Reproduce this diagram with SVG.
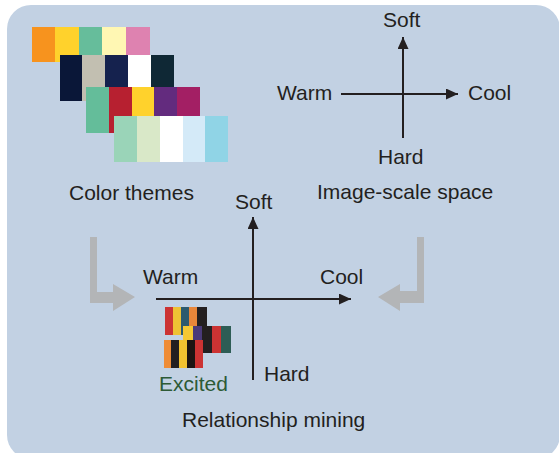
<svg xmlns="http://www.w3.org/2000/svg" width="559" height="453" viewBox="0 0 559 453">
<defs>
<style>
.t{font-family:"Liberation Sans",Arial,sans-serif;font-size:21px;fill:#231f20}
.ax{stroke:#231f20;stroke-width:2;fill:none;marker-end:url(#ah)}
.ga{fill:#b3b5b7}
</style>
<marker id="ah" markerUnits="userSpaceOnUse" markerWidth="12" markerHeight="12" refX="12" refY="5.5" orient="auto">
<path d="M0,0 L12,5.5 L0,11 z" fill="#231f20"/>
</marker>
</defs>
<rect width="559" height="453" fill="#ffffff"/>
<rect x="7" y="5" width="553" height="454" rx="24" fill="#c2d1e3"/>

<g id="color-themes">
<rect x="32" y="27" width="23" height="35" fill="#f7931e"/>
<rect x="55" y="27" width="24" height="35" fill="#ffd22c"/>
<rect x="79" y="27" width="23" height="35" fill="#66bd9b"/>
<rect x="102" y="27" width="24" height="35" fill="#fff7b3"/>
<rect x="126" y="27" width="24" height="35" fill="#de82b0"/>
<rect x="60" y="55" width="22" height="46" fill="#0a1738"/>
<rect x="82" y="55" width="23" height="46" fill="#c2bfb1"/>
<rect x="105" y="55" width="23" height="46" fill="#15224e"/>
<rect x="128" y="55" width="23" height="46" fill="#ffffff"/>
<rect x="151" y="55" width="23" height="46" fill="#0f2835"/>
<rect x="86" y="87" width="23" height="46" fill="#64bd9a"/>
<rect x="109" y="87" width="23" height="46" fill="#b72030"/>
<rect x="132" y="87" width="22" height="46" fill="#ffd22c"/>
<rect x="154" y="87" width="23" height="46" fill="#632b7e"/>
<rect x="177" y="87" width="23" height="46" fill="#a31f64"/>
<rect x="114" y="116" width="23" height="46" fill="#9ad4b8"/>
<rect x="137" y="116" width="23" height="46" fill="#d9e8c8"/>
<rect x="160" y="116" width="23" height="46" fill="#ffffff"/>
<rect x="183" y="116" width="22" height="46" fill="#d4eaf8"/>
<rect x="205" y="116" width="23" height="46" fill="#90d4e6"/>
<text class="t" x="69" y="200">Color themes</text>
</g>

<g id="image-scale-space">
<text class="t" x="383" y="27">Soft</text>
<text class="t" x="277" y="100">Warm</text>
<text class="t" x="468" y="100">Cool</text>
<text class="t" x="378" y="164">Hard</text>
<text class="t" x="317" y="199">Image-scale space</text>
</g>

<g id="relationship-mining">
<text class="t" x="235" y="209">Soft</text>
<text class="t" x="143" y="284">Warm</text>
<text class="t" x="320" y="284">Cool</text>
<text class="t" x="264" y="381">Hard</text>
<text class="t" x="182" y="427">Relationship mining</text>
</g>

<g id="excited">
<rect x="165" y="307" width="8" height="28" fill="#cc3333"/>
<rect x="173" y="307" width="8" height="28" fill="#efc134"/>
<rect x="181" y="307" width="8" height="28" fill="#2d5a6e"/>
<rect x="189" y="307" width="8" height="28" fill="#e8863a"/>
<rect x="197" y="307" width="10" height="28" fill="#231f20"/>
<rect x="183" y="326" width="10" height="27" fill="#f4c834"/>
<rect x="193" y="326" width="9" height="27" fill="#4a3a7a"/>
<rect x="202" y="326" width="10" height="27" fill="#231f20"/>
<rect x="212" y="326" width="9" height="27" fill="#cc3333"/>
<rect x="221" y="326" width="10" height="27" fill="#2e5d55"/>
<rect x="164" y="340" width="7" height="28" fill="#ef8c36"/>
<rect x="171" y="340" width="8" height="28" fill="#231f20"/>
<rect x="179" y="340" width="8" height="28" fill="#f2c230"/>
<rect x="187" y="340" width="8" height="28" fill="#1c1412"/>
<rect x="195" y="340" width="8" height="28" fill="#cc3333"/>
<text class="t" x="159" y="391" fill="#2d5a36" style="fill:#2d5a36">Excited</text>
</g>

<g id="connectors">
<line class="ax" x1="341" y1="94" x2="458" y2="94"/>
<line class="ax" x1="403" y1="138" x2="403" y2="37"/>
<line class="ax" x1="156" y1="299" x2="351" y2="299"/>
<line class="ax" x1="253" y1="380" x2="253" y2="217"/>
<polygon class="ga" points="90,237 97,237 97,292 113,292 113,284 135,297 113,311 113,303 90,303"/>
<polygon class="ga" points="424,237 417,237 417,291 400,291 400,284 378,297 400,311 400,303 424,303"/>
</g>
</svg>
